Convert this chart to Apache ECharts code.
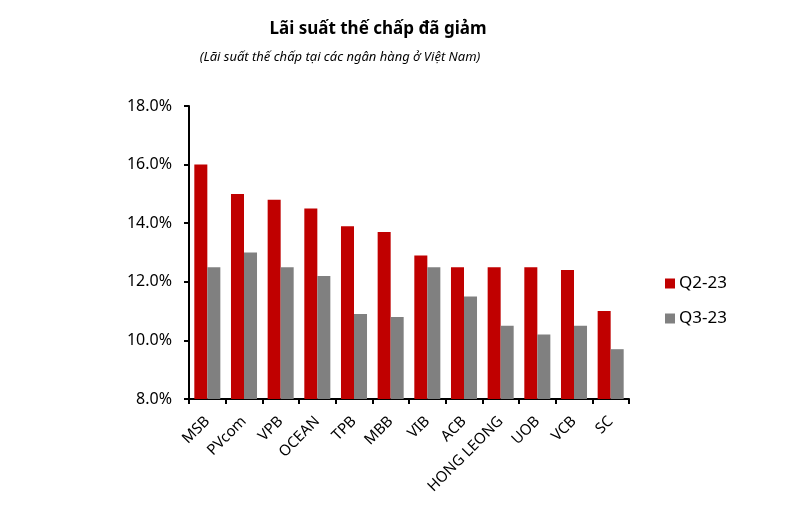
<!DOCTYPE html>
<html>
<head>
<meta charset="utf-8">
<script src="https://cdn.jsdelivr.net/npm/echarts@6/dist/echarts.min.js"></script>
<style>
html, body { margin: 0; padding: 0; background: #fff; }
#chart { width: 788px; height: 525px; }
</style>
</head>
<body>
<div id="chart"></div>
<script>
var banks = ['MSB', 'PVcom', 'VPB', 'OCEAN', 'TPB', 'MBB', 'VIB', 'ACB', 'HONG LEONG', 'UOB', 'VCB', 'SC'];
var q2Rates = [16.0, 15.0, 14.8, 14.5, 13.9, 13.7, 12.9, 12.5, 12.5, 12.5, 12.4, 11.0];
var q3Rates = [12.5, 13.0, 12.5, 12.2, 10.9, 10.8, 12.5, 11.5, 10.5, 10.2, 10.5, 9.7];
var seriesNames = ['Q2-23', 'Q3-23'];

var font = 'Noto Sans';
var theChart = echarts.init(document.getElementById('chart'));

var option = {
	animation: false,
	color: ['#C00000', '#808080'],
	graphic: [
		{
			type: 'text',
			x: 378, y: 21,
			style: {
				text: 'Lãi suất thế chấp đã giảm',
				fontFamily: font, fontSize: 17, fontWeight: 'bold',
				fill: '#000', textAlign: 'center'
			}
		},
		{
			type: 'text',
			x: 340, y: 51,
			style: {
				text: '(Lãi suất thế chấp tại các ngân hàng ở Việt Nam)',
				fontFamily: font, fontSize: 13, fontStyle: 'italic',
				fill: '#000', textAlign: 'center'
			}
		}
	],
	legend: {
		orient: 'vertical',
		left: 660,
		top: 270,
		itemWidth: 10,
		itemHeight: 10,
		itemGap: 18,
		icon: 'rect',
		data: seriesNames,
		textStyle: { fontFamily: font, fontSize: 17, color: '#000', padding: [0, 0, 0, -1] }
	},
	grid: { left: 189, right: 159, top: 106, bottom: 126, containLabel: false },
	xAxis: {
		type: 'category',
		data: banks,
		axisLine: { lineStyle: { color: '#000', width: 2 } },
		axisTick: { show: true, alignWithLabel: false, length: 5, lineStyle: { color: '#000', width: 2 } },
		axisLabel: {
			interval: 0, rotate: 45, margin: 20,
			fontFamily: font, fontSize: 15, color: '#000'
		}
	},
	yAxis: {
		type: 'value',
		min: 8, max: 18, interval: 2,
		axisLine: { show: true, lineStyle: { color: '#000', width: 2 } },
		axisTick: { show: true, length: 5, lineStyle: { color: '#000', width: 2 } },
		splitLine: { show: false },
		axisLabel: {
			margin: 17,
			fontFamily: font, fontSize: 16, color: '#000',
			formatter: function (v) { return v.toFixed(1) + '%'; }
		}
	},
	series: [
		{ name: seriesNames[0], type: 'bar', data: q2Rates, barGap: '0%', barCategoryGap: '29%' },
		{ name: seriesNames[1], type: 'bar', data: q3Rates, barGap: '0%', barCategoryGap: '29%' }
	]
};

theChart.setOption(option);
</script>
</body>
</html>
